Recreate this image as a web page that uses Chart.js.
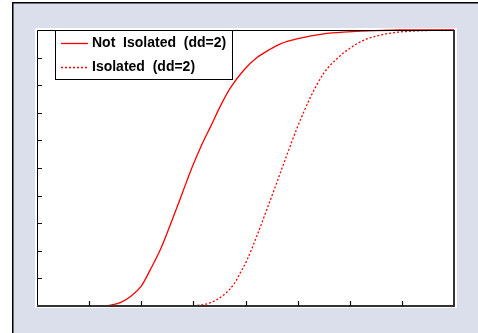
<!DOCTYPE html>
<html>
<head>
<meta charset="utf-8">
<script src="https://cdn.jsdelivr.net/npm/chart.js@4"></script>
<style>
  html, body { margin: 0; padding: 0; background: #fff; }
  #wrap { width: 478px; height: 333px; }
</style>
</head>
<body>
<div id="wrap"><canvas id="cdf" width="478" height="333"></canvas></div>
<script>
// Series
const notIsoX = [1.32, 1.6, 1.8, 2.0, 2.17, 2.38, 2.58, 2.81, 2.97, 3.15, 3.33, 3.52, 3.71, 3.97, 4.22, 4.45, 4.67, 5.03, 5.5, 5.96, 6.5, 7.0, 8.0];
const notIsoY = [0, 0.012, 0.035, 0.072, 0.13, 0.21, 0.305, 0.42, 0.5, 0.58, 0.65, 0.725, 0.79, 0.855, 0.9, 0.928, 0.95, 0.97, 0.986, 0.993, 0.998, 1.0, 1.0];
const isoX = [3.0, 3.33, 3.58, 3.78, 3.9, 4.03, 4.22, 4.42, 4.61, 4.77, 4.99, 5.25, 5.5, 5.76, 6.02, 6.28, 6.6, 6.92, 7.3, 8.0];
const isoY = [0, 0.012, 0.04, 0.08, 0.12, 0.167, 0.255, 0.355, 0.452, 0.535, 0.645, 0.758, 0.843, 0.897, 0.936, 0.964, 0.982, 0.992, 0.997, 1.0];
const labels = ["Not  Isolated  (dd=2)", "Isolated  (dd=2)"];
const xTicks = [0, 1, 2, 3, 4, 5, 6, 7, 8];
const yTicks = [0, 0.1, 0.2, 0.3, 0.4, 0.5, 0.6, 0.7, 0.8, 0.9, 1.0];

const toPts = (xs, ys) => xs.map((x, i) => ({ x: x, y: ys[i] }));

// background frame + white plot panel
const framePlugin = {
  id: "frame",
  beforeDraw(chart) {
    const c = chart.ctx;
    const a = chart.chartArea;
    c.save();
    c.fillStyle = "#ffffff";
    c.fillRect(0, 0, chart.width, chart.height);
    c.fillStyle = "rgb(219,223,235)";
    c.fillRect(13, 2, chart.width - 13, chart.height - 2);
    c.strokeStyle = "#000";
    c.lineWidth = 1.5;
    c.beginPath();
    c.moveTo(12.75, chart.height);
    c.lineTo(12.75, 2.75);
    c.lineTo(chart.width, 2.75);
    c.stroke();
    c.fillStyle = "#ffffff";
    c.fillRect(a.left - 2, a.top - 2, a.right - a.left + 5, a.bottom - a.top + 4);
    c.restore();
  },
  afterDatasetsDraw(chart) {
    const c = chart.ctx;
    const a = chart.chartArea;
    const xs = chart.scales.x;
    const ys = chart.scales.y;
    c.save();
    // axes
    c.strokeStyle = "#000";
    c.lineWidth = 1;
    c.beginPath();
    c.moveTo(a.left + 0.5, a.bottom);
    c.lineTo(a.left + 0.5, a.top + 0.5);
    c.lineTo(a.right, a.top + 0.5);
    c.stroke();
    c.strokeStyle = "#333";
    c.lineWidth = 2;
    c.beginPath();
    c.moveTo(a.right, a.top);
    c.lineTo(a.right, a.bottom);
    c.lineTo(a.left, a.bottom);
    c.stroke();
    // inward ticks
    c.strokeStyle = "#111";
    c.lineWidth = 1.2;
    c.beginPath();
    xTicks.slice(1, -1).forEach(v => {
      const px = Math.round(xs.getPixelForValue(v)) + 0.5;
      c.moveTo(px, a.bottom);
      c.lineTo(px, a.bottom - 5);
    });
    yTicks.slice(1, -1).forEach(v => {
      const py = Math.round(ys.getPixelForValue(v)) + 0.5;
      c.moveTo(a.left, py);
      c.lineTo(a.left + 5, py);
    });
    c.stroke();
    // legend box
    const lx = 55, ly = a.top, lw = 177, lh = 49;
    c.fillStyle = "#fff";
    c.fillRect(lx, ly, lw, lh);
    c.strokeStyle = "#000";
    c.lineWidth = 1;
    c.strokeRect(lx + 0.5, ly + 0.5, lw, lh);
    c.font = "bold 14px 'Liberation Sans', Arial, sans-serif";
    c.textBaseline = "middle";
    chart.data.datasets.forEach((ds, i) => {
      const yy = ly + 13 + i * 24;
      c.strokeStyle = ds.borderColor;
      c.lineWidth = ds.borderWidth;
      c.setLineDash(ds.borderDash || []);
      c.beginPath();
      c.moveTo(lx + 6, yy + 0.5);
      c.lineTo(lx + 33, yy + 0.5);
      c.stroke();
      c.setLineDash([]);
      c.fillStyle = "#000";
      c.fillText(ds.label, lx + 37, yy);
    });
    c.restore();
  }
};

const ctxCdf = document.getElementById("cdf").getContext("2d");

const cdf = new Chart(ctxCdf, {
  type: "line",
  data: {
    datasets: [
      {
        label: labels[0],
        data: toPts(notIsoX, notIsoY),
        borderColor: "#ff0000",
        borderWidth: 1.3,
        pointRadius: 0,
        cubicInterpolationMode: "monotone",
        clip: false
      },
      {
        label: labels[1],
        data: toPts(isoX, isoY),
        borderColor: "#ff0000",
        borderWidth: 1.3,
        borderDash: [2, 2],
        pointRadius: 0,
        cubicInterpolationMode: "monotone",
        clip: false
      }
    ]
  },
  options: {
    responsive: false,
    animation: false,
    layout: { padding: { left: 37, top: 30, right: 24, bottom: 27 } },
    plugins: { legend: { display: false }, tooltip: { enabled: false } },
    scales: {
      x: { type: "linear", min: 0, max: 8, display: false },
      y: { type: "linear", min: 0, max: 1, display: false }
    }
  },
  plugins: [framePlugin]
});
</script>
</body>
</html>
